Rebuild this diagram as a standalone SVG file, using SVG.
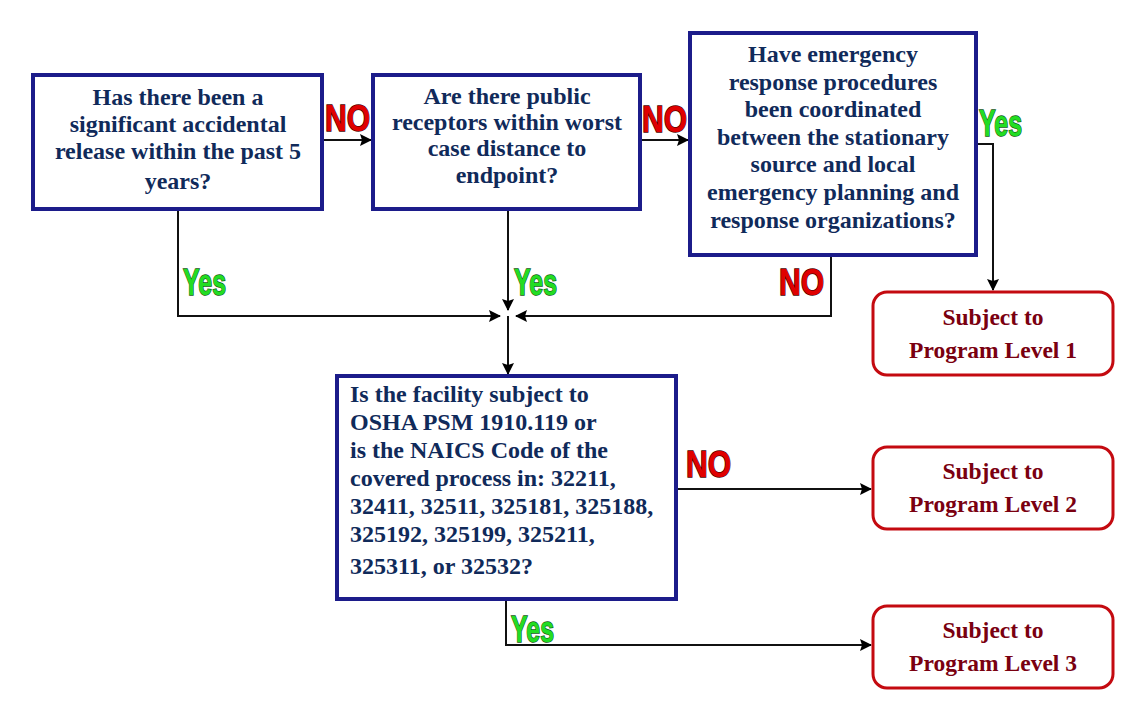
<svg xmlns="http://www.w3.org/2000/svg" width="1148" height="718" viewBox="0 0 1148 718">
<defs>
<marker id="arr" markerWidth="12" markerHeight="12" refX="11" refY="6" orient="auto" markerUnits="userSpaceOnUse">
<path d="M0,0 L12,6 L0,12 L2,6 Z" fill="#000"/>
</marker>
</defs>
<style>
.q{fill:#fff;stroke:#1c1c8a;stroke-width:4}
.r{fill:#fff;stroke:#c40a10;stroke-width:3}
.qt{font-family:"Liberation Serif",serif;font-weight:bold;font-size:24px;fill:#102a5a}
.rt{font-family:"Liberation Serif",serif;font-weight:bold;font-size:23.5px;fill:#7a0010;text-anchor:middle}
.c{fill:none;stroke:#111;stroke-width:2}
.yes{font-family:"Liberation Sans Narrow","Liberation Sans",sans-serif;font-weight:bold;font-size:37px;fill:#22dd22;stroke:#135a13;stroke-width:1.5;paint-order:stroke}
.no{font-family:"Liberation Sans Narrow","Liberation Sans",sans-serif;font-weight:bold;font-size:37px;fill:#e00000;stroke:#4a0000;stroke-width:1.5;paint-order:stroke}
</style>
<rect width="1148" height="718" fill="#fff"/>
<g id="connectors">
<path class="c" d="M322,140 H371" marker-end="url(#arr)"/>
<path class="c" d="M640,140 H688" marker-end="url(#arr)"/>
<path class="c" d="M976,144 H993 V290" marker-end="url(#arr)"/>
<path class="c" d="M178,209 V316 H500" marker-end="url(#arr)"/>
<path class="c" d="M508,209 V310" marker-end="url(#arr)"/>
<path class="c" d="M831,255 V316 H516" marker-end="url(#arr)"/>
<path class="c" d="M508,316 V374" marker-end="url(#arr)"/>
<path class="c" d="M676,489 H871" marker-end="url(#arr)"/>
<path class="c" d="M506,599 V645 H871" marker-end="url(#arr)"/>
<text class="no" x="325" y="131" textLength="45" lengthAdjust="spacingAndGlyphs">NO</text>
<text class="no" x="642" y="132" textLength="45" lengthAdjust="spacingAndGlyphs">NO</text>
<text class="yes" x="979" y="136" textLength="43" lengthAdjust="spacingAndGlyphs">Yes</text>
<text class="yes" x="183" y="295" textLength="43" lengthAdjust="spacingAndGlyphs">Yes</text>
<text class="yes" x="514" y="295" textLength="43" lengthAdjust="spacingAndGlyphs">Yes</text>
<text class="no" x="779" y="295" textLength="45" lengthAdjust="spacingAndGlyphs">NO</text>
<text class="no" x="686" y="477" textLength="45" lengthAdjust="spacingAndGlyphs">NO</text>
<text class="yes" x="511" y="642" textLength="43" lengthAdjust="spacingAndGlyphs">Yes</text>
</g>
<g id="q1">
<rect class="q" x="33" y="75" width="289" height="134"/>
<text class="qt" text-anchor="middle"><tspan x="178" y="105">Has there been a</tspan><tspan x="178" y="132">significant accidental</tspan><tspan x="178" y="159">release within the past 5</tspan><tspan x="178" y="189">years?</tspan></text>
</g>
<g id="q2">
<rect class="q" x="373" y="75" width="267" height="134"/>
<text class="qt" text-anchor="middle"><tspan x="507" y="104">Are there public</tspan><tspan x="507" y="130">receptors within worst</tspan><tspan x="507" y="156">case distance to</tspan><tspan x="507" y="183">endpoint?</tspan></text>
</g>
<g id="q3">
<rect class="q" x="690" y="33" width="286" height="222"/>
<text class="qt" text-anchor="middle"><tspan x="833" y="62">Have emergency</tspan><tspan x="833" y="90">response procedures</tspan><tspan x="833" y="117">been coordinated</tspan><tspan x="833" y="145">between the stationary</tspan><tspan x="833" y="172">source and local</tspan><tspan x="833" y="200">emergency planning and</tspan><tspan x="833" y="228">response organizations?</tspan></text>
</g>
<g id="q4">
<rect class="q" x="337" y="376" width="339" height="223"/>
<text class="qt"><tspan x="350" y="402">Is the facility subject to</tspan><tspan x="350" y="430">OSHA PSM 1910.119 or</tspan><tspan x="350" y="458">is the NAICS Code of the</tspan><tspan x="350" y="486">covered process in:  32211,</tspan><tspan x="350" y="514">32411, 32511, 325181, 325188,</tspan><tspan x="350" y="542">325192, 325199, 325211,</tspan><tspan x="350" y="574">325311, or 32532?</tspan></text>
</g>
<g id="level1">
<rect class="r" x="873" y="292" width="240" height="83" rx="14"/>
<text class="rt"><tspan x="993" y="325">Subject to</tspan><tspan x="993" y="358">Program Level 1</tspan></text>
</g>
<g id="level2">
<rect class="r" x="873" y="447" width="240" height="82" rx="14"/>
<text class="rt"><tspan x="993" y="479">Subject to</tspan><tspan x="993" y="512">Program Level 2</tspan></text>
</g>
<g id="level3">
<rect class="r" x="873" y="606" width="240" height="82" rx="14"/>
<text class="rt"><tspan x="993" y="638">Subject to</tspan><tspan x="993" y="671">Program Level 3</tspan></text>
</g>
</svg>
